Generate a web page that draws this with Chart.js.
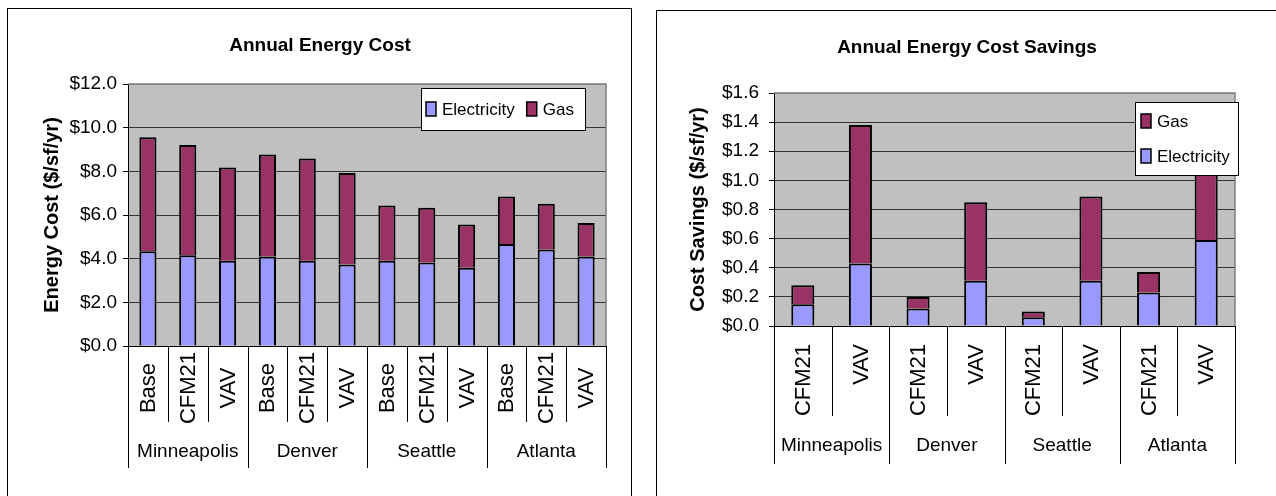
<!DOCTYPE html>
<html>
<head>
<meta charset="utf-8">
<title>Annual Energy Cost</title>
<script src="https://cdn.jsdelivr.net/npm/chart.js@4.4.1/dist/chart.umd.min.js"></script>
<style>
    body { margin: 0; background: #fff; width: 1276px; height: 496px; overflow: hidden; position: relative; }
    .frame { position: absolute; border: 1.5px solid #000; border-bottom: none; }
    #frameCost { left: 7px; top: 8px; width: 623px; height: 500px; }
    #frameSave { left: 656px; top: 10px; width: 700px; height: 500px; }
    canvas { position: absolute; top: 0; }
    #costChart { left: 0; }
    #saveChart { left: 640px; }
</style>
</head>
<body>
<div class="frame" id="frameCost"></div>
<div class="frame" id="frameSave"></div>
<canvas id="costChart" width="640" height="496"></canvas>
<canvas id="saveChart" width="636" height="496"></canvas>
<script>
        // Data ($/sf/yr)
        const cities = ['Minneapolis', 'Denver', 'Seattle', 'Atlanta'];

        const costCases = ['Base', 'CFM21', 'VAV'];
        const costElectricity = [4.34, 4.16, 3.91, 4.10, 3.91, 3.73, 3.91, 3.82, 3.58, 4.67, 4.42, 4.10];
        const costGas = [5.22, 5.05, 4.27, 4.67, 4.68, 4.19, 2.52, 2.51, 1.98, 2.18, 2.10, 1.53];
        const costTicks = [0, 2, 4, 6, 8, 10, 12];

        const savingsCases = ['CFM21', 'VAV'];
        const savingsElectricity = [0.15, 0.43, 0.12, 0.31, 0.06, 0.31, 0.23, 0.59];
        const savingsGas = [0.13, 0.95, 0.08, 0.54, 0.04, 0.58, 0.14, 0.63];
        const savingsTicks = [0, 0.2, 0.4, 0.6, 0.8, 1.0, 1.2, 1.4, 1.6];

        const elecColor = '#9999FF';
        const gasColor = '#993366';
        const FONT = 'Arial, "Liberation Sans", sans-serif';

        Chart.defaults.font.family = FONT;
        Chart.defaults.color = '#000';

        // Excel style pieces: grey plot area, title, in-plot legend, two level category axis
        const excelLook = {
            id: 'excelLook',
            beforeDraw(chart) {
                const { ctx, chartArea: a } = chart;
                ctx.save();
                ctx.fillStyle = '#C0C0C0';
                ctx.fillRect(a.left, a.top, a.right - a.left, a.bottom - a.top);
                ctx.restore();
            },
            beforeDatasetsDraw(chart) {
                const { ctx, chartArea: a } = chart;
                ctx.save();
                ctx.strokeStyle = '#808080';
                ctx.lineWidth = 1.5;
                ctx.beginPath();
                ctx.moveTo(a.left, a.top);
                ctx.lineTo(a.right, a.top);
                ctx.lineTo(a.right, a.bottom);
                ctx.stroke();
                ctx.restore();
            },
            afterDatasetsDraw(chart, args, opts) {
                const { ctx } = chart;
                const lg = opts.legend;
                ctx.save();
                ctx.fillStyle = '#fff';
                ctx.fillRect(lg.x, lg.y, lg.w, lg.h);
                ctx.strokeStyle = '#000';
                ctx.lineWidth = 1;
                ctx.strokeRect(lg.x + 0.5, lg.y + 0.5, lg.w, lg.h);
                ctx.font = '17px ' + FONT;
                ctx.textBaseline = 'middle';
                ctx.textAlign = 'left';
                let cx = lg.x + 5;
                lg.order.forEach((di, k) => {
                    const ds = chart.data.datasets[di];
                    let sx, my;
                    if (lg.layout === 'row') {
                        sx = cx;
                        my = lg.y + lg.h / 2;
                    } else {
                        sx = lg.x + 6;
                        my = lg.y + lg.firstRow + k * lg.rowStep;
                    }
                    ctx.fillStyle = ds.backgroundColor;
                    ctx.fillRect(sx, my - 7, 10, 14);
                    ctx.strokeStyle = '#000';
                    ctx.lineWidth = 1.5;
                    ctx.strokeRect(sx, my - 7, 10, 14);
                    ctx.fillStyle = '#000';
                    ctx.fillText(ds.label, sx + 16, my + 1);
                    cx = sx + 16 + ctx.measureText(ds.label).width + 12;
                });
                ctx.restore();
            },
            afterDraw(chart, args, opts) {
                const { ctx, chartArea: a } = chart;
                const x = chart.scales.x;
                const n = chart.data.labels.length;
                const w = (a.right - a.left) / n;
                const per = opts.cases.length;
                ctx.save();
                // title
                ctx.font = 'bold 19px ' + FONT;
                ctx.textAlign = 'center';
                ctx.textBaseline = 'middle';
                ctx.fillStyle = '#000';
                ctx.fillText(opts.title, opts.titleX, opts.titleY);

                // divider lines under the axis
                ctx.strokeStyle = '#000';
                ctx.lineWidth = 1;
                for (let k = 0; k <= n; k++) {
                    const px = Math.round(a.left + k * w) + 0.5;
                    const bottom = (k % per === 0) ? opts.groupBottom : opts.innerBottom;
                    ctx.beginPath();
                    ctx.moveTo(px, a.bottom);
                    ctx.lineTo(px, bottom);
                    ctx.stroke();
                }

                // rotated case labels
                ctx.font = '22px ' + FONT;
                chart.data.labels.forEach((lab, i) => {
                    const px = x.getPixelForValue(i);
                    ctx.save();
                    ctx.translate(px + 1, opts.caseY);
                    ctx.rotate(-Math.PI / 2);
                    ctx.textAlign = opts.caseAlign;
                    ctx.textBaseline = 'middle';
                    ctx.fillText(lab, 0, 0);
                    ctx.restore();
                });

                // city labels
                ctx.font = '19px ' + FONT;
                ctx.textAlign = 'center';
                opts.groups.forEach((g, j) => {
                    const cx = a.left + (j + 0.5) * per * w;
                    ctx.fillText(g, cx, opts.groupY);
                });
                ctx.restore();
            }
        };

        function makeChart(id, cases, elec, gas, ticks, cfg) {
            const labels = cities.flatMap(() => cases);
            const top = ticks[ticks.length - 1];
            return new Chart(document.getElementById(id), {
                type: 'bar',
                data: {
                    labels: labels,
                    datasets: [
                        { label: 'Electricity', data: elec, backgroundColor: elecColor, borderColor: '#000', borderWidth: 2 },
                        { label: 'Gas', data: gas, backgroundColor: gasColor, borderColor: '#000', borderWidth: 2 }
                    ]
                },
                options: {
                    responsive: false,
                    animation: false,
                    layout: { padding: cfg.padding },
                    datasets: { bar: { barPercentage: cfg.barPct, categoryPercentage: 1 } },
                    plugins: {
                        legend: { display: false },
                        tooltip: { enabled: false },
                        excelLook: {
                            title: cfg.title, titleX: cfg.titleX, titleY: cfg.titleY,
                            cases: cases, groups: cities,
                            caseY: cfg.caseY, caseAlign: cfg.caseAlign,
                            innerBottom: cfg.innerBottom, groupBottom: cfg.groupBottom, groupY: cfg.groupY,
                            legend: cfg.legend
                        }
                    },
                    scales: {
                        x: {
                            stacked: true,
                            ticks: { display: false },
                            grid: { display: false },
                            border: { display: true, color: '#000', width: 1 },
                            afterFit: (s) => { s.height = 0; }
                        },
                        y: {
                            stacked: true,
                            min: ticks[0],
                            max: top,
                            afterFit: (s) => { s.width = cfg.axisWidth; },
                            afterBuildTicks: (s) => { s.ticks = ticks.map(v => ({ value: v })); },
                            ticks: {
                                padding: cfg.tickPad,
                                font: { size: 19 },
                                callback: (v) => '$' + Number(v).toFixed(1)
                            },
                            grid: {
                                color: (c) => (c.tick && c.tick.value === top) ? '#808080' : '#333',
                                tickColor: '#000',
                                tickLength: 5,
                                lineWidth: 1
                            },
                            border: { display: true, color: '#000', width: 1 },
                            title: {
                                display: true,
                                text: cfg.yTitle,
                                font: { size: 20, weight: 'bold' },
                                padding: { top: cfg.yTitlePad, bottom: 0 }
                            }
                        }
                    }
                },
                plugins: [excelLook]
            });
        }

        makeChart('costChart', costCases, costElectricity, costGas, costTicks, {
            padding: { left: 0, top: 84, right: 34, bottom: 150 },
            axisWidth: 128, tickPad: 6, barPct: 0.43,
            yTitle: 'Energy Cost ($/sf/yr)', yTitlePad: 40,
            title: 'Annual Energy Cost', titleX: 320, titleY: 46,
            caseY: 388, caseAlign: 'center',
            innerBottom: 422, groupBottom: 468, groupY: 452,
            legend: { x: 421, y: 88, w: 164, h: 42, layout: 'row', order: [0, 1] }
        });

        makeChart('saveChart', savingsCases, savingsElectricity, savingsGas, savingsTicks, {
            padding: { left: 0, top: 93, right: 41, bottom: 170 },
            axisWidth: 134, tickPad: 10, barPct: 0.40,
            yTitle: 'Cost Savings ($/sf/yr)', yTitlePad: 46,
            title: 'Annual Energy Cost Savings', titleX: 327, titleY: 48,
            caseY: 344, caseAlign: 'right',
            innerBottom: 416, groupBottom: 464, groupY: 446,
            legend: { x: 495, y: 102, w: 103, h: 73, layout: 'column', order: [1, 0], firstRow: 19, rowStep: 35 }
        });
</script>
</body>
</html>
